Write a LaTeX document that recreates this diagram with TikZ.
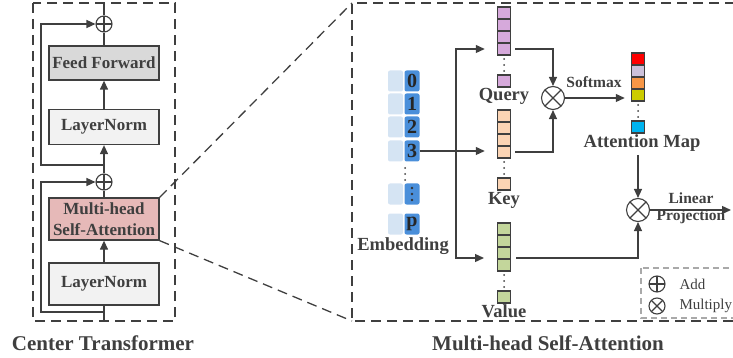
\documentclass[tikz,border=0pt]{standalone}
\usepackage{fontspec}
\setmainfont{Liberation Serif}
\usetikzlibrary{arrows.meta}

\definecolor{ink}{HTML}{3F3F3F}
\definecolor{ffgray}{HTML}{D9D9D9}
\definecolor{normgray}{HTML}{F2F2F2}
\definecolor{attnpink}{HTML}{E6B9B8}
\definecolor{emblight}{HTML}{D5E4F3}
\definecolor{embblue}{HTML}{4A8FDA}
\definecolor{querycol}{HTML}{D6A9DB}
\definecolor{keycol}{HTML}{FBD4B4}
\definecolor{valuecol}{HTML}{C3D69B}
\definecolor{mapred}{HTML}{FF0000}
\definecolor{maplilac}{HTML}{CCC1DA}
\definecolor{maporange}{HTML}{F79646}
\definecolor{mapolive}{HTML}{CCCC00}
\definecolor{mapcyan}{HTML}{00B4F0}

\tikzset{
  block/.style={draw=ink, fill=normgray, line width=1.3pt, minimum width=110pt,
    inner xsep=2pt, align=center, text=ink, font=\bfseries\fontsize{17}{21}\selectfont},
  cell/.style={draw=ink, line width=1.5pt, minimum width=13pt, minimum height=12pt, inner sep=0pt},
  embcell/.style={fill=#1, rounded corners=2pt, minimum width=15pt, minimum height=21pt,
    inner sep=0pt, text=black!85, font=\bfseries\fontsize{20}{20}\selectfont},
  link/.style={draw=ink, line width=1.3pt},
  arrowline/.style={link, -{Triangle[length=9pt,width=8pt]}},
  dashframe/.style={draw=ink, line width=1.3pt, dash pattern=on 10pt off 6pt},
  addop/.style={circle, draw=ink, line width=1.1pt, inner sep=0pt, minimum size=#1,
    path picture={\draw[ink, line width=1.1pt]
      (path picture bounding box.north) -- (path picture bounding box.south)
      (path picture bounding box.west) -- (path picture bounding box.east);}},
  mulop/.style={circle, draw=ink, line width=1.1pt, inner sep=0pt, minimum size=#1,
    path picture={\draw[ink, line width=1.1pt]
      (path picture bounding box.north west) -- (path picture bounding box.south east)
      (path picture bounding box.north east) -- (path picture bounding box.south west);}},
  vlabel/.style={text=ink, font=\bfseries\fontsize{18.5}{20}\selectfont},
  captiontext/.style={text=ink, font=\bfseries\fontsize{21}{24}\selectfont},
  smalltext/.style={text=ink, font=\bfseries\fontsize{15.5}{17}\selectfont},
  legendtext/.style={text=ink, font=\fontsize{15}{17}\selectfont},
}

% token vector: name, x, top, four cell colours, last colour
\newcommand{\tokvec}[5]{%
  \foreach \col [count=\i] in {#4}
    \node[cell, fill=\col] (#1\i) at (#2, #3+12*\i-6) {};
  \node[cell, fill=#5] (#1s) at (#2, #3+74) {};
  \foreach \k in {52,58,64}
    \fill[ink] (#2, #3+\k) circle (1pt);
}

\begin{document}
\begin{tikzpicture}[x=1pt, y=-1pt]
  \useasboundingbox (0,0) rectangle (733,358);

  % center transformer
  \draw[dashframe] (33,3) rectangle (175,321);
  \node[block, fill=ffgray, minimum height=34pt] (ff) at (104,63) {Feed Forward};
  \node[block, minimum height=35pt] (norm2) at (104,127) {LayerNorm};
  \node[block, fill=attnpink, minimum height=42pt] (mhsa) at (104,219) {Multi-head\\Self-Attention};
  \node[block, minimum height=42pt] (norm1) at (104,284) {LayerNorm};
  \node[addop=16pt] (add2) at (104,24) {};
  \node[addop=16pt] (add1) at (104,182) {};
  \coordinate (xin) at (104,321);
  \coordinate (xout) at (104,3);
  \coordinate (skip1) at (104,312);
  \coordinate (skip2) at (104,165);

  \draw[link] (xin) -- (norm1.south);
  \draw[arrowline] (norm1.north) -- (mhsa.south);
  \draw[link] (mhsa.north) -- (add1.south);
  \draw[arrowline] (add1.north) -- (norm2.south);
  \draw[arrowline] (norm2.north) -- (ff.south);
  \draw[link] (ff.north) -- (add2.south);
  \draw[link] (add2.north) -- (xout);
  \draw[arrowline] (skip1) -- ++(-63,0) |- (add1.west);
  \draw[arrowline] (skip2) -- ++(-63,0) |- (add2.west);

  \node[captiontext] (ctcap) at (103,343) {Center Transformer};

  % zoom into attention
  \coordinate (zoomtop) at (352,3);
  \coordinate (zoombot) at (352,321);
  \draw[dashframe] (mhsa.north east) -- (zoomtop);
  \draw[dashframe] (mhsa.south east) -- (zoombot);
  \draw[dashframe] (735,3) -- (zoomtop) -- (zoombot) -- (735,321);

  % embedding
  \foreach \t/\y in {0/81,1/104,2/127,3/151} {
    \node[embcell=emblight] (l\t) at (395.5,\y) {};
    \node[embcell=embblue] (e\t) at (412,\y) {\t};
  }
  \foreach \k in {168,174,180}
    \fill[ink] (405,\k) circle (1pt);
  \node[embcell=emblight] (lv) at (395.5,194) {};
  \node[embcell=embblue] (ev) at (412,194) {};
  \foreach \k in {-6,0,6}
    \fill[black!80] ([yshift=\k pt]ev.center) circle (1.3pt);
  \node[embcell=emblight] (lp) at (395.5,224) {};
  \node[embcell=embblue] (ep) at (412,224) {p};
  \node[vlabel] (emblab) at (403,246) {Embedding};

  % query, key, value
  \tokvec{q}{504}{7}{querycol,querycol,querycol,querycol}{querycol}
  \node[vlabel] (qlab) at (504,96) {Query};
  \tokvec{k}{504}{110}{keycol,keycol,keycol,keycol}{keycol}
  \node[vlabel] (klab) at (504,200) {Key};
  \tokvec{v}{504}{223}{valuecol,valuecol,valuecol,valuecol}{valuecol}
  \node[vlabel] (vlab) at (504,311) {Value};

  \coordinate (split) at (456,151);
  \coordinate (vin) at (484,258);
  \coordinate (vout) at (516,258);
  \draw[arrowline, shorten >=12pt] (e3.east) -- (e3.east -| k4.west);
  \draw[arrowline, shorten >=12pt] (split) |- (q4.west);
  \draw[arrowline] (split) |- (vin);

  % attention map
  \tokvec{a}{638}{53}{mapred,maplilac,maporange,mapolive}{mapcyan}
  \node[vlabel] (amap) at (642,143) {Attention Map};

  \node[mulop=23pt] (m1) at (553,98) {};
  \draw[arrowline] ([xshift=4pt]q4.east) -| (m1.north);
  \draw[arrowline] ([xshift=4pt]k4.east) -| (m1.south);
  \draw[arrowline, shorten >=6pt] (m1.east) -- (m1.east -| a4.west);
  \node[smalltext] (smax) at (594,82) {Softmax};

  \node[mulop=23pt] (m2) at (638,210) {};
  \coordinate (proj) at (731,210);
  \draw[arrowline] (m2.north |- amap.south) -- (m2.north);
  \draw[arrowline] (vout) -| (m2.south);
  \draw[arrowline] (m2.east) -- (proj);
  \node[smalltext] (linlab) at (691,198) {Linear};
  \node[smalltext] (projlab) at (691,217) {Projection};

  % legend
  \draw[dashframe, draw=ink!45, dash pattern=on 6pt off 4pt] (641,268) rectangle (735,318);
  \node[addop=16pt] (addkey) at (657,284) {};
  \node[legendtext, anchor=west] (addtxt) at (676,284) {Add};
  \node[mulop=16pt] (mulkey) at (657,306) {};
  \node[legendtext, anchor=west] (multxt) at (676,306) {Multiply};

  \node[captiontext] (mhcap) at (548,343) {Multi-head Self-Attention};
\end{tikzpicture}
\end{document}
